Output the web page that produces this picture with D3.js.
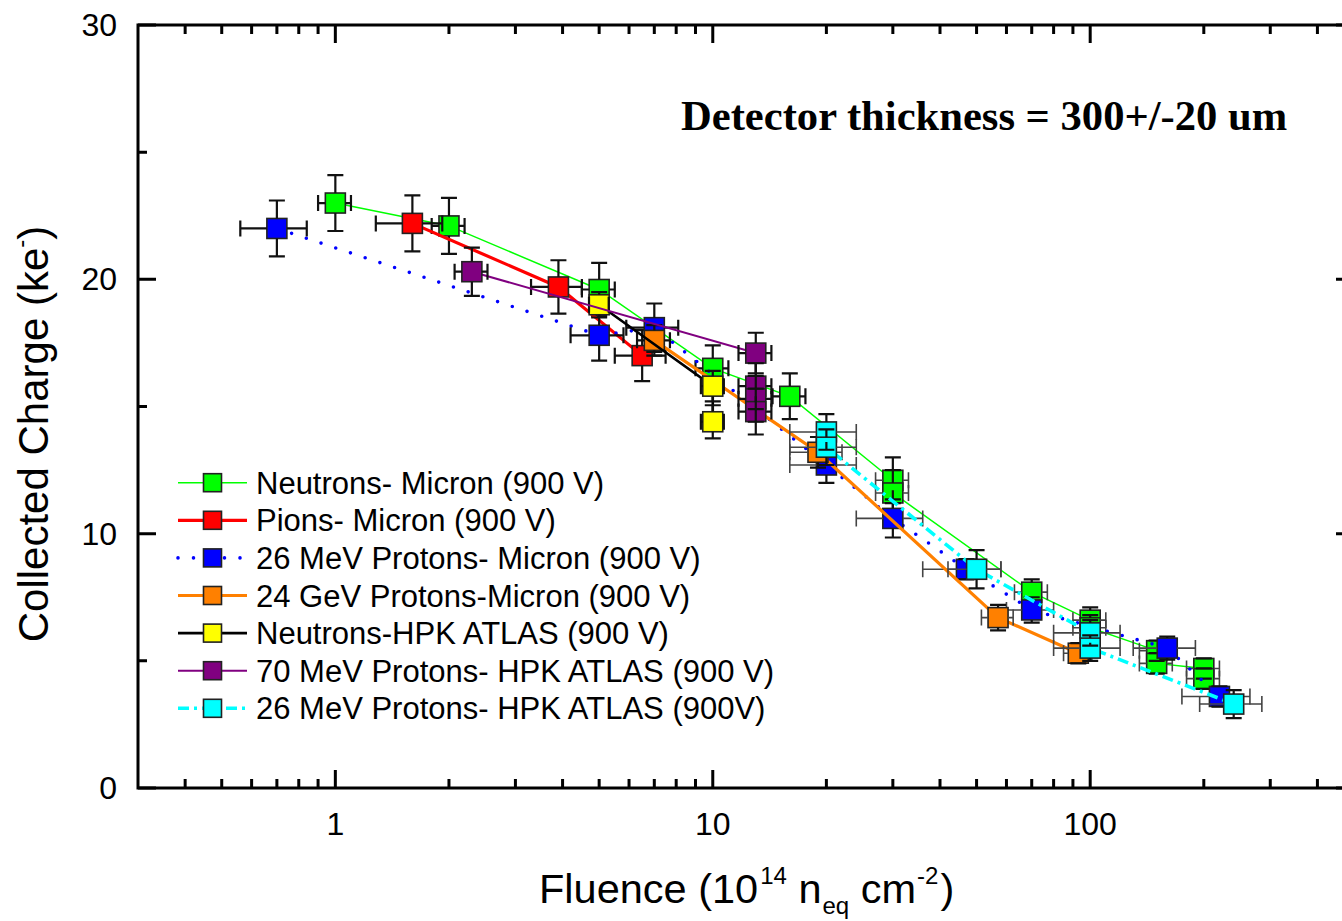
<!DOCTYPE html>
<html><head><meta charset="utf-8">
<script src="https://cdn.jsdelivr.net/npm/d3@7"></script>
<style>body{margin:0;background:#fff}svg{display:block}</style>
</head><body><svg id="c" width="1342" height="921"></svg>
<script>
// ---------- data ----------
const xMajorTicks = [1, 10, 100];
const xMajorLabels = ["1", "10", "100"];
const yMajorTicks = [0, 10, 20, 30];
const yMinorTicks = [5, 15, 25];

const seriesNames = [
  "Neutrons- Micron (900 V)",
  "Pions- Micron (900 V)",
  "26 MeV Protons- Micron (900 V)",
  "24 GeV Protons-Micron (900 V)",
  "Neutrons-HPK ATLAS (900 V)",
  "70 MeV Protons- HPK ATLAS (900 V)",
  "26 MeV Protons- HPK ATLAS (900V)"
];

const neutronsMicronX   = [1, 2, 5, 10, 16, 30, 30, 70, 100, 100, 150, 150, 200, 200];
const neutronsMicronY   = [23.0, 22.1, 19.6, 16.5, 15.4, 12.1, 11.6, 7.7, 6.6, 6.3, 5.4, 4.9, 4.7, 4.3];
const neutronsMicronXe  = [0.1, 0.2, 0.5, 1, 1.6, 3, 3, 7, 10, 10, 15, 15, 20, 20];
const neutronsMicronYe  = [1.1, 1.1, 1.05, 0.9, 0.9, 0.9, 0.9, 0.5, 0.5, 0.5, 0.4, 0.4, 0.4, 0.4];

const pionsMicronX  = [1.6, 3.9, 6.5];
const pionsMicronY  = [22.2, 19.7, 17.0];
const pionsMicronXe = [0.32, 0.6, 1.0];
const pionsMicronYe = [1.1, 1.05, 1.0];

const p26MicronX  = [0.7, 5, 7, 20, 30, 47, 70, 160, 220];
const p26MicronY  = [22.0, 17.8, 18.1, 12.7, 10.6, 8.6, 7.0, 5.5, 3.6];
const p26MicronXe = [0.14, 0.8, 1.1, 4, 6, 11, 10, 30, 45];
const p26MicronYe = [1.1, 1.0, 0.95, 0.7, 0.75, 0.4, 0.5, 0.45, 0.4];

const p24GeVMicronX  = [7, 19, 57, 93];
const p24GeVMicronY  = [17.6, 13.2, 6.7, 5.3];
const p24GeVMicronXe = [0.7, 3, 5.5, 8];
const p24GeVMicronYe = [0.6, 0.6, 0.5, 0.4];

const neutronsHpkX  = [5, 10, 10];
const neutronsHpkY  = [19.0, 15.8, 14.4];
const neutronsHpkXe = [0.3, 0.7, 0.7];
const neutronsHpkYe = [0.5, 0.6, 0.65];

const p70HpkX  = [2.3, 13, 13, 13, 13];
const p70HpkY  = [20.3, 17.1, 15.8, 15.3, 14.8];
const p70HpkXe = [0.23, 1.3, 1.3, 1.3, 1.3];
const p70HpkYe = [0.95, 0.8, 0.9, 0.9, 0.9];

const p26HpkX  = [20, 20, 50, 100, 100, 240];
const p26HpkY  = [14.0, 13.4, 8.6, 6.1, 5.5, 3.3];
const p26HpkXe = [4, 4, 8, 20, 20, 45];
const p26HpkYe = [0.7, 0.7, 0.75, 0.5, 0.5, 0.55];

const fills  = ["#00ff00", "#ff0000", "#0000ff", "#ff8000", "#ffff00", "#800080", "#00ffff"];
const lineColors = ["#00ff00", "#ff0000", "#0000ff", "#ff8000", "#000000", "#800080", "#00ffff"];

// ---------- build ----------
function mk(xs, ys, xe, ye) { return xs.map((x, i) => ({x, y: ys[i], xe: xe[i], ye: ye[i]})); }
const styles = [
  {w: 1.5, dash: null, cap: "butt"},
  {w: 3.2, dash: null, cap: "butt"},
  {w: 3.6, dash: "0,15.5", cap: "round"},
  {w: 3.2, dash: null, cap: "butt"},
  {w: 2.6, dash: null, cap: "butt"},
  {w: 2, dash: null, cap: "butt"},
  {w: 3.6, dash: "11,5,3,5", cap: "butt"}
];
const series = [
  mk(neutronsMicronX, neutronsMicronY, neutronsMicronXe, neutronsMicronYe),
  mk(pionsMicronX, pionsMicronY, pionsMicronXe, pionsMicronYe),
  mk(p26MicronX, p26MicronY, p26MicronXe, p26MicronYe),
  mk(p24GeVMicronX, p24GeVMicronY, p24GeVMicronXe, p24GeVMicronYe),
  mk(neutronsHpkX, neutronsHpkY, neutronsHpkXe, neutronsHpkYe),
  mk(p70HpkX, p70HpkY, p70HpkXe, p70HpkYe),
  mk(p26HpkX, p26HpkY, p26HpkXe, p26HpkYe)
].map((pts, i) => ({pts, name: seriesNames[i], fill: fills[i], stroke: lineColors[i], ...styles[i]}));

const svg = d3.select("#c");
const L = 138, R = 1354, T = 25, B = 788;
const x = d3.scaleLog().domain([0.3, 500]).range([L, R]);
const y = d3.scaleLinear().domain([0, 30]).range([B, T]);

svg.append("rect").attr("width", 1342).attr("height", 921).attr("fill", "#fff");

// ---------- series ----------
const S = 20, half = S / 2, capW = 8;
const plot = svg.append("g");
const lineGen = d3.line().x(d => x(d.x)).y(d => y(d.y));
series.forEach(s => {
  const g = plot.append("g");
  g.append("path").attr("d", lineGen(s.pts)).attr("fill", "none")
    .attr("stroke", s.stroke).attr("stroke-width", s.w)
    .attr("stroke-dasharray", s.dash).attr("stroke-linecap", s.cap);
  g.selectAll("rect.m").data(s.pts).join("rect").attr("class", "m")
    .attr("x", d => x(d.x) - half).attr("y", d => y(d.y) - half)
    .attr("width", S).attr("height", S)
    .attr("fill", s.fill).attr("stroke", "#222").attr("stroke-width", 1.6);
  const eb = g.append("g").attr("fill", "none");
  s.pts.forEach(d => {
    const cx = x(d.x), cy = y(d.y);
    const yt = y(d.y + d.ye), yb = y(d.y - d.ye);
    const xl = x(d.x - d.xe), xr = x(d.x + d.xe);
    const vp = [];
    if (cy - yt > half) vp.push(`M${cx},${yt}V${cy - half}`);
    if (yb - cy > half) vp.push(`M${cx},${cy + half}V${yb}`);
    vp.push(`M${cx - capW},${yt}H${cx + capW}M${cx - capW},${yb}H${cx + capW}`);
    eb.append("path").attr("d", vp.join("")).attr("stroke", "#111").attr("stroke-width", 2.2);
    const hp = [];
    if (cx - xl > half) hp.push(`M${xl},${cy}H${cx - half}`);
    if (xr - cx > half) hp.push(`M${cx + half},${cy}H${xr}`);
    hp.push(`M${xl},${cy - capW}V${cy + capW}M${xr},${cy - capW}V${cy + capW}`);
    eb.append("path").attr("d", hp.join("")).attr("stroke", d.x >= 19 ? "#444" : "#111")
      .attr("stroke-width", d.x >= 19 ? 1.6 : 2.2);
  });
});

// ---------- axes ----------
const ax = svg.append("g").attr("stroke", "#000").attr("stroke-width", 3).attr("fill", "none");
ax.append("rect").attr("x", L).attr("y", T).attr("width", R - L).attr("height", B - T);
const minorX = [];
for (let dec = 0.1; dec <= 100; dec *= 10)
  for (let k = 2; k <= 9; k++) { const v = +(k * dec).toPrecision(3); if (v > 0.3 && v < 500) minorX.push(v); }
const tickMaj = 18, tickMin = 9;
xMajorTicks.forEach(v => {
  ax.append("path").attr("d", `M${x(v)},${B}V${B - tickMaj}M${x(v)},${T}V${T + tickMaj}`);
});
minorX.forEach(v => {
  ax.append("path").attr("d", `M${x(v)},${B}V${B - tickMin}M${x(v)},${T}V${T + tickMin}`);
});
yMajorTicks.forEach(v => {
  ax.append("path").attr("d", `M${L},${y(v)}H${L + tickMaj}M${R},${y(v)}H${R - tickMaj}`);
});
yMinorTicks.forEach(v => {
  ax.append("path").attr("d", `M${L},${y(v)}H${L + tickMin}M${R},${y(v)}H${R - tickMin}`);
});

const font = "Arial, 'Liberation Sans', Helvetica, sans-serif";
svg.append("g").selectAll("text").data(xMajorTicks).join("text")
  .attr("x", d => x(d)).attr("y", B + 47).attr("text-anchor", "middle")
  .attr("font-family", font).attr("font-size", 32).text((d, i) => xMajorLabels[i]);
svg.append("g").selectAll("text").data(yMajorTicks).join("text")
  .attr("x", L - 21).attr("y", d => y(d) + 11).attr("text-anchor", "end")
  .attr("font-family", font).attr("font-size", 32).text(d => d);

// axis titles
const xt = svg.append("text").attr("x", 539).attr("y", 903)
  .attr("font-family", font).attr("font-size", 41.5);
xt.append("tspan").text("Fluence (10");
xt.append("tspan").attr("dx", 2).attr("dy", -19).attr("font-size", 24).text("14");
xt.append("tspan").attr("dy", 19).text(" n");
xt.append("tspan").attr("dx", 1).attr("dy", 11).attr("font-size", 24).text("eq");
xt.append("tspan").attr("dy", -11).text(" cm");
xt.append("tspan").attr("dx", 1).attr("dy", -19).attr("font-size", 24).text("-2");
xt.append("tspan").attr("dx", 2).attr("dy", 19).text(")");

const yt = svg.append("text").attr("transform", "translate(48,434) rotate(-90)")
  .attr("text-anchor", "middle").attr("font-family", font).attr("font-size", 42);
yt.append("tspan").text("Collected Charge (ke");
yt.append("tspan").attr("dy", -19).attr("font-size", 24).text("-");
yt.append("tspan").attr("dy", 19).text(")");

// annotation
svg.append("text").attr("x", 681).attr("y", 130)
  .attr("font-family", "'Liberation Serif', 'Times New Roman', serif")
  .attr("font-weight", "bold").attr("font-size", 42.6)
  .text("Detector thickness = 300+/-20 um");

// ---------- legend ----------
const leg = svg.append("g");
const rowY0 = 482.7, rowDy = 37.6;
series.forEach((s, i) => {
  const cy = rowY0 + i * rowDy;
  leg.append("path").attr("d", `M178,${cy}H247`).attr("stroke", s.stroke)
    .attr("stroke-width", s.w).attr("stroke-dasharray", s.dash).attr("stroke-linecap", s.cap);
  leg.append("rect").attr("x", 212.5 - 9).attr("y", cy - 9).attr("width", 18).attr("height", 18)
    .attr("fill", s.fill).attr("stroke", "#222").attr("stroke-width", 1.6);
  leg.append("text").attr("x", 256).attr("y", cy + 11).attr("font-family", font)
    .attr("font-size", 31).text(s.name);
});
</script></body></html>
